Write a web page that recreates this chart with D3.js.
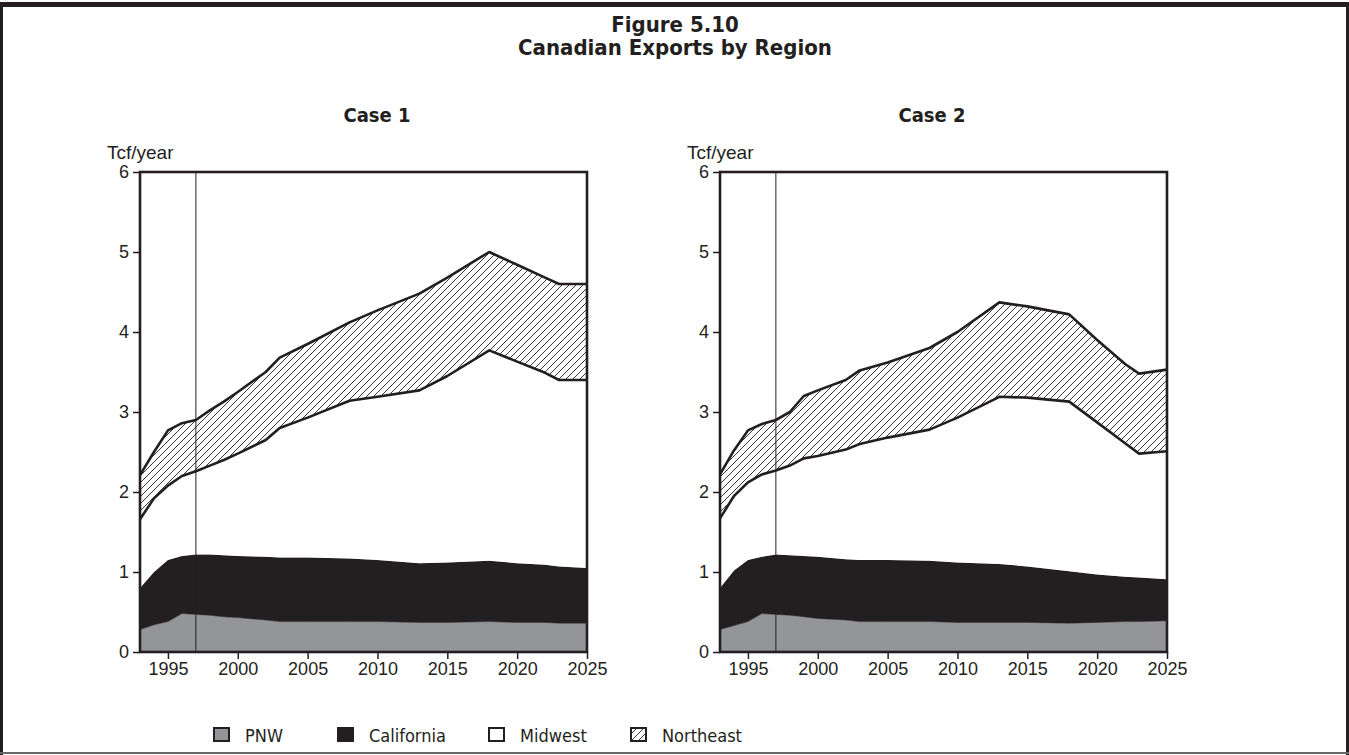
<!DOCTYPE html>
<html>
<head>
<meta charset="utf-8">
<script src="https://cdn.jsdelivr.net/npm/d3@7/dist/d3.min.js"></script>
<style>
  body { margin: 0; background: #fff; }
  text { fill: #231f20; }
</style>
</head>
<body>
<svg id="chart" width="1349" height="755"></svg>
<script>
// data (Tcf/year by region)
const years = [1993, 1994, 1995, 1996, 1997, 1998, 1999, 2000, 2002, 2003, 2005, 2008, 2010, 2013, 2015, 2018, 2020, 2022, 2023, 2025];
const regions = ["PNW", "California", "Midwest", "Northeast"];

// Case 1
const pnw1 = [0.28, 0.34, 0.38, 0.48, 0.47, 0.46, 0.44, 0.43, 0.40, 0.38, 0.38, 0.38, 0.38, 0.37, 0.37, 0.38, 0.37, 0.37, 0.36, 0.36];
const california1 = [0.52, 0.66, 0.77, 0.72, 0.75, 0.76, 0.77, 0.77, 0.79, 0.80, 0.80, 0.79, 0.77, 0.74, 0.75, 0.76, 0.74, 0.72, 0.71, 0.69];
const midwest1 = [0.86, 0.92, 0.93, 1.00, 1.04, 1.11, 1.19, 1.28, 1.46, 1.62, 1.75, 1.97, 2.04, 2.16, 2.33, 2.63, 2.52, 2.40, 2.33, 2.35];
const northeast1 = [0.55, 0.58, 0.69, 0.66, 0.64, 0.69, 0.73, 0.77, 0.85, 0.88, 0.92, 0.98, 1.08, 1.21, 1.23, 1.23, 1.21, 1.19, 1.20, 1.20];

// Case 2
const pnw2 = [0.28, 0.33, 0.38, 0.48, 0.47, 0.46, 0.44, 0.42, 0.40, 0.38, 0.38, 0.38, 0.37, 0.37, 0.37, 0.36, 0.37, 0.38, 0.38, 0.39];
const california2 = [0.52, 0.69, 0.77, 0.71, 0.75, 0.75, 0.76, 0.77, 0.76, 0.77, 0.77, 0.76, 0.75, 0.73, 0.70, 0.65, 0.60, 0.56, 0.55, 0.52];
const midwest2 = [0.87, 0.93, 0.97, 1.03, 1.05, 1.12, 1.22, 1.26, 1.37, 1.45, 1.53, 1.64, 1.81, 2.09, 2.11, 2.12, 1.90, 1.67, 1.55, 1.60];
const northeast2 = [0.55, 0.57, 0.65, 0.63, 0.63, 0.67, 0.78, 0.82, 0.87, 0.92, 0.94, 1.02, 1.07, 1.18, 1.14, 1.09, 1.03, 0.99, 1.00, 1.02];

const yTicks = [0, 1, 2, 3, 4, 5, 6];
const xTicks = [1995, 2000, 2005, 2010, 2015, 2020, 2025];
const historyEnd = 1997;

const ink = "#231f20";
const grey = "#939598";
const numFont = "'Liberation Sans', Arial, sans-serif";
const narrowFont = "'Liberation Sans Narrow', 'DejaVu Sans Condensed', sans-serif";

const svg = d3.select("#chart");

//hatch pattern for the Northeast band
const pat = svg.append("defs").append("pattern")
  .attr("id", "hatch")
  .attr("patternUnits", "userSpaceOnUse")
  .attr("width", 7)
  .attr("height", 7);
pat.append("rect").attr("width", 7).attr("height", 7).attr("fill", "#fff");
pat.append("path")
  .attr("d", "M-1,1 l2,-2 M0,7 l7,-7 M6,8 l2,-2")
  .attr("stroke", ink)
  .attr("stroke-width", 0.9);

//outer frame
svg.append("line").attr("x1", 0).attr("x2", 1349).attr("y1", 4.5).attr("y2", 4.5)
  .attr("stroke", ink).attr("stroke-width", 5);
svg.append("line").attr("x1", 1.5).attr("x2", 1.5).attr("y1", 3).attr("y2", 755)
  .attr("stroke", ink).attr("stroke-width", 3);
svg.append("line").attr("x1", 1347.5).attr("x2", 1347.5).attr("y1", 3).attr("y2", 755)
  .attr("stroke", ink).attr("stroke-width", 3);
svg.append("line").attr("x1", 0).attr("x2", 1349).attr("y1", 753).attr("y2", 753)
  .attr("stroke", "#666").attr("stroke-width", 2);

//titles
svg.append("text").attr("x", 675).attr("y", 32)
  .attr("text-anchor", "middle").attr("font-family", narrowFont)
  .attr("font-weight", "bold").attr("font-size", "22px")
  .text("Figure 5.10");
svg.append("text").attr("x", 675).attr("y", 55)
  .attr("text-anchor", "middle").attr("font-family", narrowFont)
  .attr("font-weight", "bold").attr("font-size", "22px")
  .text("Canadian Exports by Region");

function drawPanel(title, titleX, series, x0, x1) {
  const rows = years.map((yr, i) => {
    const r = { year: yr };
    regions.forEach((k, j) => { r[k] = series[j][i]; });
    return r;
  });
  const stacked = d3.stack().keys(regions)(rows);

  const x = d3.scaleLinear().domain([1993, 2025]).range([x0, x1]);
  const y = d3.scaleLinear().domain([0, 6]).range([652, 172]);

  const g = svg.append("g");

  g.append("text").attr("x", titleX).attr("y", 122)
    .attr("text-anchor", "middle").attr("font-family", narrowFont)
    .attr("font-weight", "bold").attr("font-size", "20px")
    .text(title);

  g.append("text").attr("x", x0 - 33).attr("y", 159)
    .attr("font-family", numFont).attr("font-size", "19px")
    .text("Tcf/year");

  const area = d3.area()
    .x((d) => x(d.data.year))
    .y0((d) => y(d[0]))
    .y1((d) => y(d[1]));

  const fills = [grey, ink, "#fff", "url(#hatch)"];
  g.selectAll("path.band")
    .data(stacked)
    .enter()
    .append("path")
    .attr("class", "band")
    .attr("d", area)
    .attr("fill", (d, i) => fills[i])
    .attr("stroke", (d, i) => (i < 2 ? fills[i] : "none"))
    .attr("stroke-width", 0.5);

  //outlines on top of Midwest and Northeast
  const topLine = d3.line()
    .x((d) => x(d.data.year))
    .y((d) => y(d[1]));
  g.selectAll("path.edge")
    .data(stacked.slice(2))
    .enter()
    .append("path")
    .attr("class", "edge")
    .attr("d", topLine)
    .attr("fill", "none")
    .attr("stroke", ink)
    .attr("stroke-width", 2.6)
    .attr("stroke-linejoin", "round");

  //history / forecast divider
  g.append("line")
    .attr("x1", x(historyEnd)).attr("x2", x(historyEnd))
    .attr("y1", y(6)).attr("y2", y(0))
    .attr("stroke", ink).attr("stroke-width", 1);

  //plot box
  g.append("rect")
    .attr("x", x0).attr("y", y(6))
    .attr("width", x1 - x0).attr("height", y(0) - y(6))
    .attr("fill", "none").attr("stroke", ink).attr("stroke-width", 2.6);

  const yAxis = g.append("g")
    .attr("transform", `translate(${x0},0)`)
    .call(d3.axisLeft(y).tickValues(yTicks).tickSize(7).tickPadding(4).tickFormat(d3.format("d")));
  const xAxis = g.append("g")
    .attr("transform", `translate(0,${y(0)})`)
    .call(d3.axisBottom(x).tickValues(xTicks).tickSize(7).tickPadding(3).tickFormat(d3.format("d")));
  [yAxis, xAxis].forEach((ax) => {
    ax.select(".domain").remove();
    ax.selectAll("line").attr("stroke", ink).attr("stroke-width", 1.5);
    ax.selectAll("text").attr("font-family", numFont).attr("font-size", "18px").attr("fill", ink);
  });
}

drawPanel("Case 1", 377, [pnw1, california1, midwest1, northeast1], 140, 587);
drawPanel("Case 2", 932, [pnw2, california2, midwest2, northeast2], 720, 1167);

//legend
const legendX = [214, 338, 489, 631];
const legendFill = [grey, ink, "#fff", "url(#hatch)"];
const leg = svg.append("g");
regions.forEach((name, i) => {
  leg.append("rect")
    .attr("x", legendX[i]).attr("y", 728)
    .attr("width", 15).attr("height", 13)
    .attr("fill", legendFill[i])
    .attr("stroke", ink).attr("stroke-width", 2);
  leg.append("text")
    .attr("x", legendX[i] + 31).attr("y", 742)
    .attr("font-family", narrowFont).attr("font-size", "18px")
    .text(name);
});
</script>
</body>
</html>
